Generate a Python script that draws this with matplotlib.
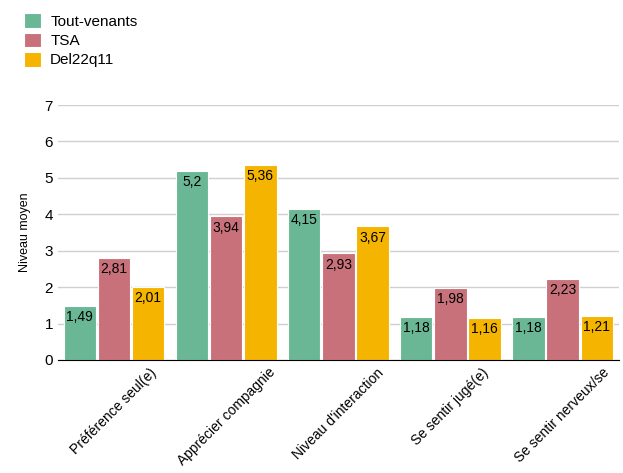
import matplotlib
matplotlib.use("Agg")
import matplotlib.pyplot as plt
import numpy as np

plt.rcParams['font.family'] = ['Liberation Sans', 'DejaVu Sans']

categories = ["Préférence seul(e)", "Apprécier compagnie", "Niveau d'interaction",
              "Se sentir jugé(e)", "Se sentir nerveux/se"]
tout_venants = [1.49, 5.2, 4.15, 1.18, 1.18]
tsa = [2.81, 3.94, 2.93, 1.98, 2.23]
del22q11 = [2.01, 5.36, 3.67, 1.16, 1.21]

series = [("Tout-venants", tout_venants, "#6ab795"),
          ("TSA", tsa, "#c8717a"),
          ("Del22q11", del22q11, "#f4b400")]

fig = plt.figure(figsize=(6.23, 4.73), dpi=100)
ax = fig.add_axes([0.093, 0.239, 0.9, 0.539])

x = np.arange(len(categories))
largeur = 0.29
ecart = 0.305

for k, (nom, vals, couleur) in enumerate(series):
    pos = x + (k - 1) * ecart
    barres = ax.bar(pos, vals, largeur, color=couleur, edgecolor="white",
                    linewidth=0.8, label=nom, zorder=3)
    for b, v in zip(barres, vals):
        txt = ("%g" % v).replace(".", ",")
        ax.text(b.get_x() + b.get_width() / 2, v - 0.12, txt,
                ha="center", va="top", fontsize=10, color="black", zorder=4)

ax.set_xlim(-0.5, len(categories) - 0.5)
ax.set_ylim(0, 7)
ax.set_yticks(range(8))
ax.set_xticks(x)
ax.set_xticklabels(categories, rotation=45, ha="center", fontsize=10)
ax.tick_params(axis="both", length=0, labelsize=11)
ax.tick_params(axis="x", labelsize=10, pad=4)
ax.set_ylabel("Niveau moyen", fontsize=9, labelpad=10)
ax.yaxis.grid(True, color="#d0d0d0", linewidth=1, zorder=0)
for s in ["left", "right", "top"]:
    ax.spines[s].set_visible(False)
ax.spines["bottom"].set_color("black")
ax.spines["bottom"].set_zorder(5)

fig.legend(loc="upper left", bbox_to_anchor=(0.029, 0.985), frameon=False,
           fontsize=11, handlelength=1.1, handleheight=1.1, labelspacing=0.25,
           handletextpad=0.6, borderaxespad=0)

fig.savefig("out.png", dpi=100)
